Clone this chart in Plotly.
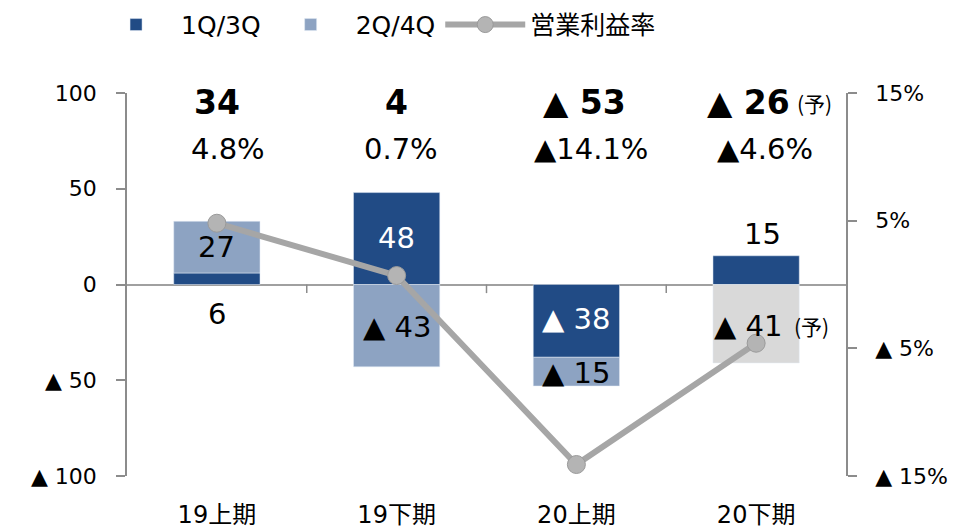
import plotly.graph_objects as go

categories = ["19上期", "19下期", "20上期", "20下期"]
q13 = [6, 48, -38, 15]          # 1Q/3Q
q24 = [27, -43, -15, -41]       # 2Q/4Q
margin_rate = [4.8, 0.7, -14.1, -4.6]   # 営業利益率 (%)
totals_text = ["34", "4", "▲ 53", "▲ 26"]
rate_text = ["4.8%", "0.7%", "▲14.1%", "▲4.6%"]
forecast = [False, False, False, True]

left_ticks = [100, 50, 0, -50, -100]
left_tick_text = ["100", "50", "0", "▲ 50", "▲ 100"]
right_ticks = [15, 5, -5, -15]
right_tick_text = ["15%", "5%", "▲ 5%", "▲ 15%"]

DARK = "#214B85"
LIGHT = "#8DA3C2"
FCST = "#D9D9D9"
LINE = "#A6A6A6"
FONT = "DejaVu Sans, Noto Sans CJK JP, sans-serif"
CJK = "Noto Sans CJK JP, DejaVu Sans, sans-serif"

x = list(range(len(categories)))

fig = go.Figure()
fig.add_trace(go.Bar(x=x, y=q13, name="1Q/3Q", marker_color=DARK, width=0.48))
fig.add_trace(go.Bar(x=x, y=q24, name="2Q/4Q",
                     marker_color=[FCST if f else LIGHT for f in forecast], width=0.48))
fig.add_trace(go.Scatter(x=x, y=margin_rate, name="営業利益率", yaxis="y2",
                         mode="lines+markers",
                         line=dict(color=LINE, width=6),
                         marker=dict(size=18, color="#B4B4B4", line=dict(color="#9A9A9A", width=1))))

ann = []
total_shift = [0, 0, 8, -8]
rate_shift = [11, 4, 15, 9]
for i in range(4):
    ann.append(dict(x=i, y=95, xref="x", yref="y", text="<b>%s</b>" % totals_text[i],
                    showarrow=False, xshift=total_shift[i],
                    font=dict(size=33, color="black")))
    if forecast[i]:
        ann.append(dict(x=i, y=95, xref="x", yref="y", text="(予)", showarrow=False,
                        xanchor="left", xshift=39, font=dict(size=21, color="black",
                                                              family=CJK)))
    ann.append(dict(x=i, y=70.5, xref="x", yref="y", text=rate_text[i], showarrow=False,
                    xshift=rate_shift[i], font=dict(size=29, color="black")))

def seg_label(i, yv, txt, color, xs=0):
    ann.append(dict(x=i, y=yv, xref="x", yref="y", text=txt, showarrow=False,
                    xshift=xs, font=dict(size=29, color=color)))

def fmt(v):
    return str(v) if v >= 0 else "▲ %d" % (-v)

seg_label(0, q13[0] + q24[0] / 2, fmt(q24[0]), "black")
seg_label(0, -15.5, fmt(q13[0]), "black")
seg_label(1, q13[1] / 2 + 0.5, fmt(q13[1]), "white")
seg_label(1, q24[1] / 2 - 0.5, fmt(q24[1]), "black")
seg_label(2, q13[2] / 2 + 1, fmt(q13[2]), "white")
seg_label(2, q13[2] + q24[2] / 2 - 0.5, fmt(q24[2]), "black")
seg_label(3, q13[3] + 11.5, fmt(q13[3]), "black", xs=6)
seg_label(3, q24[3] / 2 - 1, fmt(q24[3]), "black", xs=-8)
ann.append(dict(x=3, y=q24[3] / 2 - 1, xref="x", yref="y", text="(予)", showarrow=False,
                xanchor="left", xshift=36, font=dict(size=21, color="black", family=CJK)))

shapes = []
for b in [0.5, 1.5, 2.5]:
    shapes.append(dict(type="line", xref="x", yref="y", x0=b, x1=b, y0=0, y1=-4.5,
                       line=dict(color="#8C8C8C", width=1.5)))

fig.update_layout(
    width=956, height=523,
    margin=dict(l=119, r=118, t=85, b=55, autoexpand=False),
    plot_bgcolor="white", paper_bgcolor="white",
    barmode="relative",
    font=dict(family=FONT, size=20, color="black"),
    showlegend=True,
    legend=dict(orientation="h", x=-0.05, xanchor="left", y=1.178, yanchor="middle",
                font=dict(size=25), itemwidth=80, traceorder="normal"),
    xaxis=dict(range=[-0.5, 3.5], tickvals=x, ticktext=categories, showline=False,
               showgrid=False, zeroline=False, ticks="", tickfont=dict(size=24),
               ticklabelstandoff=22, automargin=False),
    yaxis=dict(range=[-100, 100], tickvals=left_ticks, ticktext=left_tick_text,
               showline=True, linecolor="#8C8C8C", linewidth=1.5, ticks="outside",
               ticklen=9, tickcolor="#8C8C8C", tickwidth=1.5, showgrid=False,
               zeroline=True, zerolinecolor="#A0A0A0", zerolinewidth=2,
               tickfont=dict(size=22), ticklabelstandoff=15, automargin=False),
    yaxis2=dict(range=[-15, 15], overlaying="y", side="right", tickvals=right_ticks,
                ticktext=right_tick_text, showline=True, linecolor="#8C8C8C", linewidth=1.5,
                ticks="outside", ticklen=9, tickcolor="#8C8C8C", tickwidth=1.5,
                showgrid=False, zeroline=False, tickfont=dict(size=22),
                ticklabelstandoff=14, automargin=False),
    annotations=ann, shapes=shapes,
)

fig.write_html("out.html")
